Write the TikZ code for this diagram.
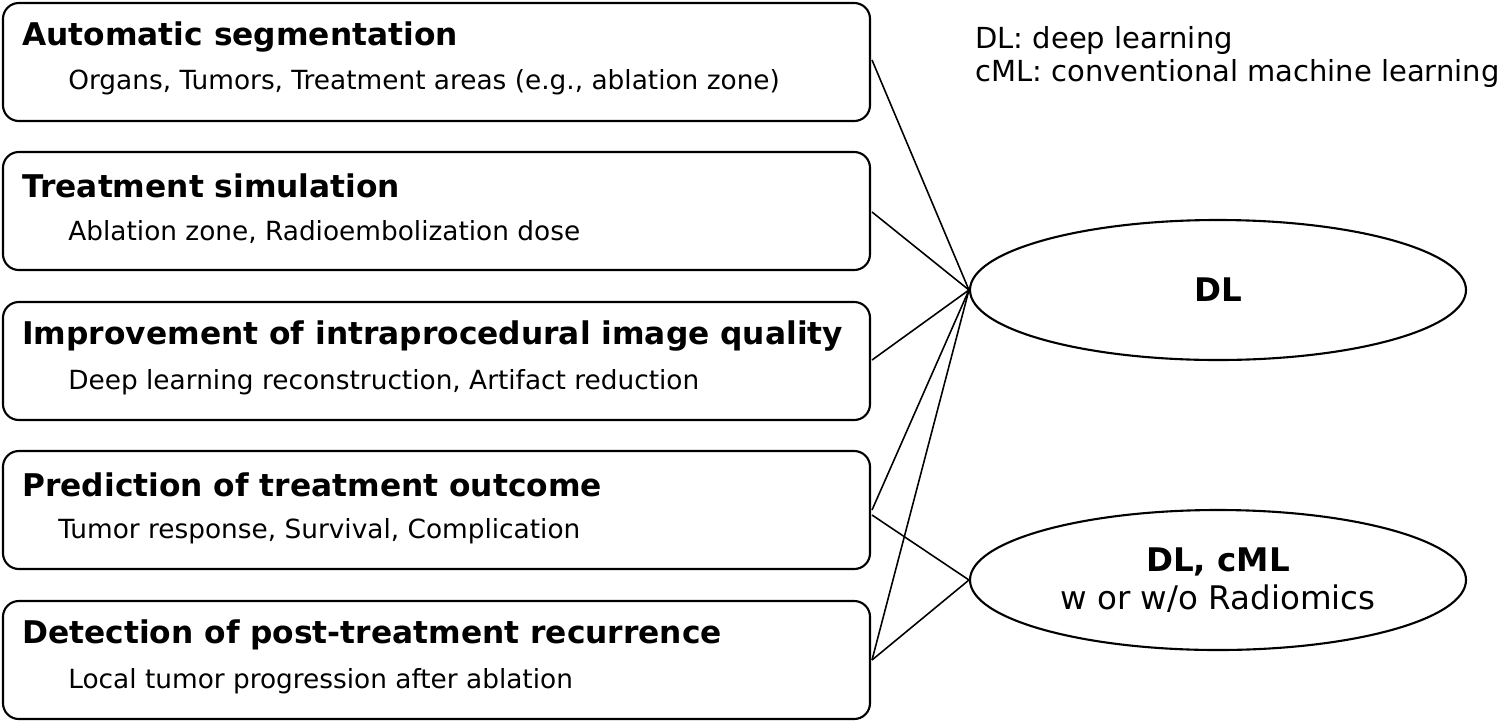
\documentclass[tikz,border=0pt]{standalone}
\usepackage{fontspec}
\setmainfont{DejaVu Sans}
\usetikzlibrary{shapes.geometric}
\begin{document}
\begin{tikzpicture}[x=0.02cm,y=-0.02cm,
 box/.style={draw,line width=1.2pt,rounded corners=9pt},
 ttl/.style={anchor=west,inner sep=0pt,font=\fontsize{17.8}{20}\selectfont\bfseries},
 sub/.style={anchor=west,inner sep=0pt,font=\fontsize{15}{18}\selectfont},
 ell/.style={draw,ellipse,line width=1.2pt,minimum width=496*0.02cm,minimum height=140*0.02cm,align=center},
 ln/.style={line width=0.9pt}]
\useasboundingbox (0,0) rectangle (1500,724);
\foreach \n/\y in {1/3,2/152,3/302,4/451,5/601}{
  \draw[box] (3,\y) rectangle (870,\y+118);
}
\node[ttl] (t1) at (22,37) {Automatic segmentation};
\node[sub] (s1) at (68,82) {Organs, Tumors, Treatment areas (e.g., ablation zone)};
\node[ttl] (t2) at (22,186) {Treatment simulation};
\node[sub] (s2) at (68,232) {Ablation zone, Radioembolization dose};
\node[ttl] (t3) at (22,336) {Improvement of intraprocedural image quality};
\node[sub] (s3) at (68,382) {Deep learning reconstruction, Artifact reduction};
\node[ttl] (t4) at (22,485) {Prediction of treatment outcome};
\node[sub] (s4) at (58,531) {Tumor response, Survival, Complication};
\node[ttl] (t5) at (22,635) {Detection of post-treatment recurrence};
\node[sub] (s5) at (68,681) {Local tumor progression after ablation};
\node[ell,font=\fontsize{18.5}{21}\selectfont\bfseries] (dl) at (1218,290) {DL};
\node[ell,font=\fontsize{18.5}{22}\selectfont] (cml) at (1218,580) {\textbf{DL, cML}\\w or w/o Radiomics};
\node[anchor=west,inner sep=0pt,align=left,font=\fontsize{16.5}{19}\selectfont] (leg) at (975,57) {DL: deep learning\\cML: conventional machine learning};
\coordinate (a1) at (872,60);
\coordinate (a2) at (872,212);
\coordinate (a3) at (872,360);
\coordinate (a4) at (872,510);
\coordinate (a4b) at (872,515);
\coordinate (a5) at (872,660);
\foreach \a in {a1,a2,a3,a4,a5} \draw[ln] (\a) -- (dl.west);
\foreach \a in {a4b,a5} \draw[ln] (\a) -- (cml.west);
\end{tikzpicture}
\end{document}
